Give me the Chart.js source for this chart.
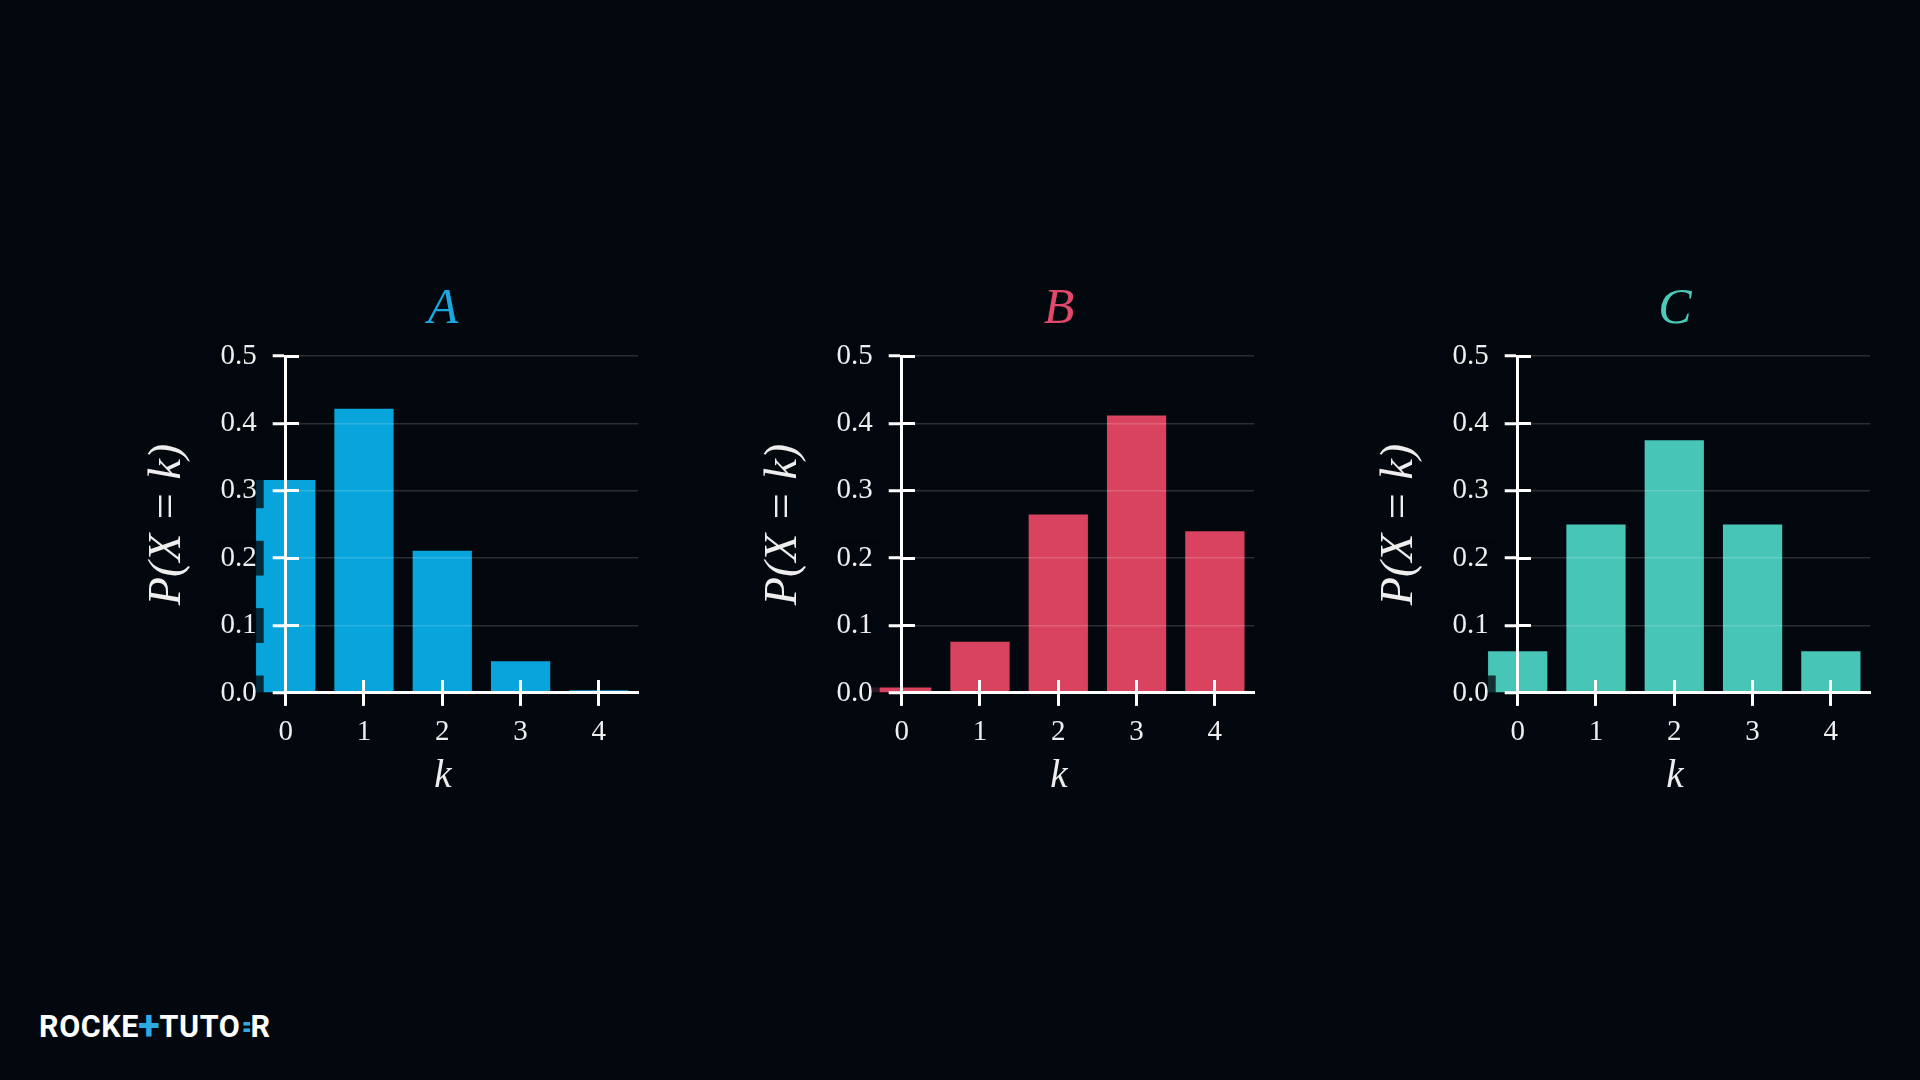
<!DOCTYPE html>
<html>
<head>
<meta charset="utf-8">
<script src="https://cdn.jsdelivr.net/npm/chart.js@4.4.1/dist/chart.umd.min.js"></script>
<style>
  html, body { margin: 0; padding: 0; background: #03080e; width: 1920px; height: 1080px; overflow: hidden; }
  .panel { position: absolute; top: 250px; width: 686px; height: 580px; }
  #logo { position: absolute; left: 39px; top: 1010px; font-family: Roboto, 'Open Sans', sans-serif; font-weight: 700;
          font-size: 30.5px; line-height: 34px; color: #ffffff; letter-spacing: 0.6px; white-space: nowrap; }
  #logo .b { color: #2fa9e2; }
  #logo .plus { color: #2fa9e2; font-size: 40px; line-height: 0; position: relative; top: 2px; margin: 0 -1px; }
  #logo .eq { color: #2fa9e2; position: relative; display: inline-block; width: 9px; overflow: hidden; vertical-align: top; margin-left: 1px; }
</style>
</head>
<body>
<div class="panel" style="left:100px"><canvas id="chartA"></canvas></div>
<div class="panel" style="left:716px"><canvas id="chartB"></canvas></div>
<div class="panel" style="left:1332px"><canvas id="chartC"></canvas></div>
<div id="logo">ROCKE<span class="plus">+</span>TUTO<span class="eq">=</span>R</div>
<script>
// ---- data ----
const kValues = [0, 1, 2, 3, 4];
const probA = [0.316, 0.422, 0.211, 0.047, 0.004];
const probB = [0.008, 0.076, 0.265, 0.412, 0.240];
const probC = [0.062, 0.250, 0.375, 0.250, 0.062];
const panelTitles = ['A', 'B', 'C'];
const yAxisTitle = 'P(X = k)';
const xAxisTitle = 'k';
const yMin = 0, yMax = 0.5, yStep = 0.1;
const xMin = 0, xMax = 4.5, xStep = 1;

// ---- style ----
const barColors = ['#07a5dc', '#d9435f', '#47c5b6'];
const titleColors = ['#1aa7df', '#e2486a', '#4ccab9'];
const serif = "'Liberation Serif', 'DejaVu Serif', serif";
const txtColor = '#eeeeee';

function makeChart(canvasId, probs, title, barColor, titleColor) {
  const ctx = document.getElementById(canvasId);
  return new Chart(ctx, {
    type: 'bar',
    data: {
      datasets: [{
        data: kValues.map((k, i) => ({ x: k, y: probs[i] })),
        backgroundColor: barColor,
        borderWidth: 0,
        categoryPercentage: 1,
        barPercentage: 0.757,
        clip: false
      }]
    },
    options: {
      responsive: true,
      maintainAspectRatio: false,
      animation: false,
      layout: { padding: 0 },
      plugins: {
        legend: { display: false },
        tooltip: { enabled: false },
        title: {
          display: true, text: title, color: titleColor,
          font: { family: serif, style: 'italic', weight: 'normal', size: 50, lineHeight: 1 },
          padding: { top: 34.6, bottom: 21.5 }
        },
        subtitle: {
          display: true, position: 'bottom', text: xAxisTitle, color: txtColor,
          font: { family: serif, style: 'italic', weight: 'normal', size: 39, lineHeight: 1 },
          padding: { top: 8.1, bottom: 33.5 }
        }
      },
      scales: {
        x: {
          type: 'linear', position: 'bottom', min: xMin, max: xMax, offset: false,
          afterFit: (s) => { s.height = 56.5; },
          ticks: { stepSize: xStep, includeBounds: false, color: txtColor, padding: 8.7, z: 1,
                   font: { family: serif, size: 29, lineHeight: 1.2 },
                   callback: (v) => String(v) },
          grid: { offset: false, drawOnChartArea: false, drawTicks: true, tickLength: 13,
                  tickColor: '#ffffff', tickWidth: 3, z: 1 },
          border: { display: true, color: '#ffffff', width: 3, z: 1 }
        },
        x2: {
          type: 'linear', position: { y: 0 }, min: xMin, max: xMax, offset: false,
          ticks: { display: false, stepSize: xStep, includeBounds: false },
          grid: { offset: false, drawOnChartArea: false, drawTicks: true, tickLength: -13,
                  tickColor: '#ffffff', tickWidth: 3, z: 1 },
          border: { display: false }
        },
        y: {
          type: 'linear', position: 'left', min: yMin, max: yMax,
          afterFit: (s) => { s.width = 185.7; },
          ticks: { stepSize: yStep, color: txtColor, padding: 16, z: 1,
                   font: { family: serif, size: 29, lineHeight: 1.2 },
                   callback: (v) => Number(v).toFixed(1),
                   showLabelBackdrop: true, backdropColor: 'rgba(3,8,14,0.78)',
                   backdropPadding: { top: 0, bottom: 0, left: 6, right: 7 } },
          grid: { color: 'rgba(255,255,255,0.16)', lineWidth: 1.5, drawTicks: true, tickLength: 13,
                  tickColor: '#ffffff', tickWidth: 3, z: 1 },
          border: { display: true, color: '#ffffff', width: 3, z: 1 },
          title: { display: true, text: yAxisTitle, color: txtColor,
                   font: { family: serif, style: 'italic', size: 46, lineHeight: 1 },
                   padding: { top: 45, bottom: 0 } }
        },
        y2: {
          type: 'linear', position: { x: 0 }, min: yMin, max: yMax,
          ticks: { display: false, stepSize: yStep },
          grid: { drawOnChartArea: false, drawTicks: true, tickLength: -13,
                  tickColor: '#ffffff', tickWidth: 3, z: 1 },
          border: { display: false }
        },
        yR: {
          type: 'linear', position: 'right', min: yMin, max: yMax,
          afterFit: (s) => { s.width = 148; },
          ticks: { display: false },
          grid: { display: false },
          border: { display: false }
        }
      }
    }
  });
}

const allProbs = [probA, probB, probC];
const ids = ['chartA', 'chartB', 'chartC'];
ids.forEach((id, i) => makeChart(id, allProbs[i], panelTitles[i], barColors[i], titleColors[i]));
</script>
</body>
</html>
